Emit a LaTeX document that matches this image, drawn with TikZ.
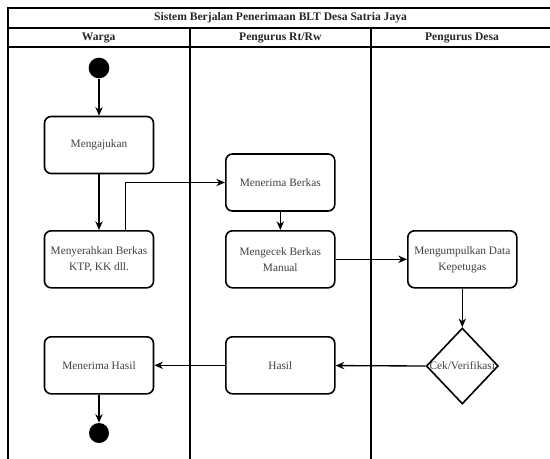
\documentclass[tikz,border=0pt]{standalone}
\usepackage{fontspec}
\setmainfont{Liberation Serif}
\usetikzlibrary{shapes.geometric,arrows.meta,positioning,calc}
\begin{document}
\begin{tikzpicture}[x=0.75pt,y=-0.75pt,
  lane/.style={line width=1.5pt,line cap=rect},
  hdr/.style={font=\fontsize{8.7}{10}\selectfont\bfseries,text=black!85,inner sep=0pt},
  act/.style={draw,line width=1.2pt,rounded corners=5pt,minimum width=81.75pt,minimum height=42.75pt,align=center,inner sep=1pt,font=\fontsize{8.5}{12}\selectfont,text=black!75},
  dec/.style={draw,diamond,line width=1.2pt,minimum width=54pt,minimum height=57pt,inner sep=0pt},
  dot/.style={circle,fill=black,inner sep=0pt,minimum size=15.5pt},
  flow/.style={-{Stealth[length=6.5pt,width=5.5pt]},line width=1pt},
  lbl/.style={font=\fontsize{8.5}{10}\selectfont,text=black!75}
]
\useasboundingbox (0,0) rectangle (550,458);
\clip (0,0) rectangle (550,458);
% pool frame
\draw[lane] (8,480) -- (8,8) -- (553,8) -- (553,480);
\draw[lane] (8,28) -- (553,28);
\draw[lane] (8,46.5) -- (553,46.5);
\draw[lane] (189.5,28) -- (189.5,480);
\draw[lane] (371,28) -- (371,480);
\node[hdr] (title) at (280.5,18) {Sistem Berjalan Penerimaan BLT Desa Satria Jaya};
\node[hdr] (h1) at (98.7,37.5) {Warga};
\node[hdr] (h2) at (280.3,37.5) {Pengurus Rt/Rw};
\node[hdr] (h3) at (462,37.5) {Pengurus Desa};
% nodes
\node[dot] (start) at (99,68) {};
\node[act] (ajukan) at (99,145) {Mengajukan};
\node[act] (serah) at (99,259.3) {Menyerahkan Berkas\\KTP, KK dll.};
\node[act] (terima) at (280.3,182.5) {Menerima Berkas};
\node[act] (cek) at (280.3,259.3) {Mengecek Berkas\\Manual};
\node[act] (kumpul) at (462.3,259.3) {Mengumpulkan Data\\Kepetugas};
\node[dec,label={[lbl]center:Cek/Verifikasi}] (verif) at (462.3,366) {};
\node[act] (hasil) at (280.3,365.3) {Hasil};
\node[act] (thasil) at (99,365.3) {Menerima Hasil};
\node[dot,minimum size=15pt] (end) at (99,433) {};
% flows
\draw[flow] (start) -- (ajukan);
\draw[flow] (ajukan) -- (serah);
\coordinate (s1) at ([xshift=20pt]serah.north);
\draw[flow] (s1) |- (terima.west);
\draw[flow] (terima) -- (cek);
\draw[flow] (cek) -- (kumpul);
\draw[flow] (kumpul) -- (verif.north);
\draw[flow] (verif.west) -- (hasil);
\draw[flow] (hasil) -- (thasil);
\draw[flow] (thasil) -- (end);
\end{tikzpicture}
\end{document}
